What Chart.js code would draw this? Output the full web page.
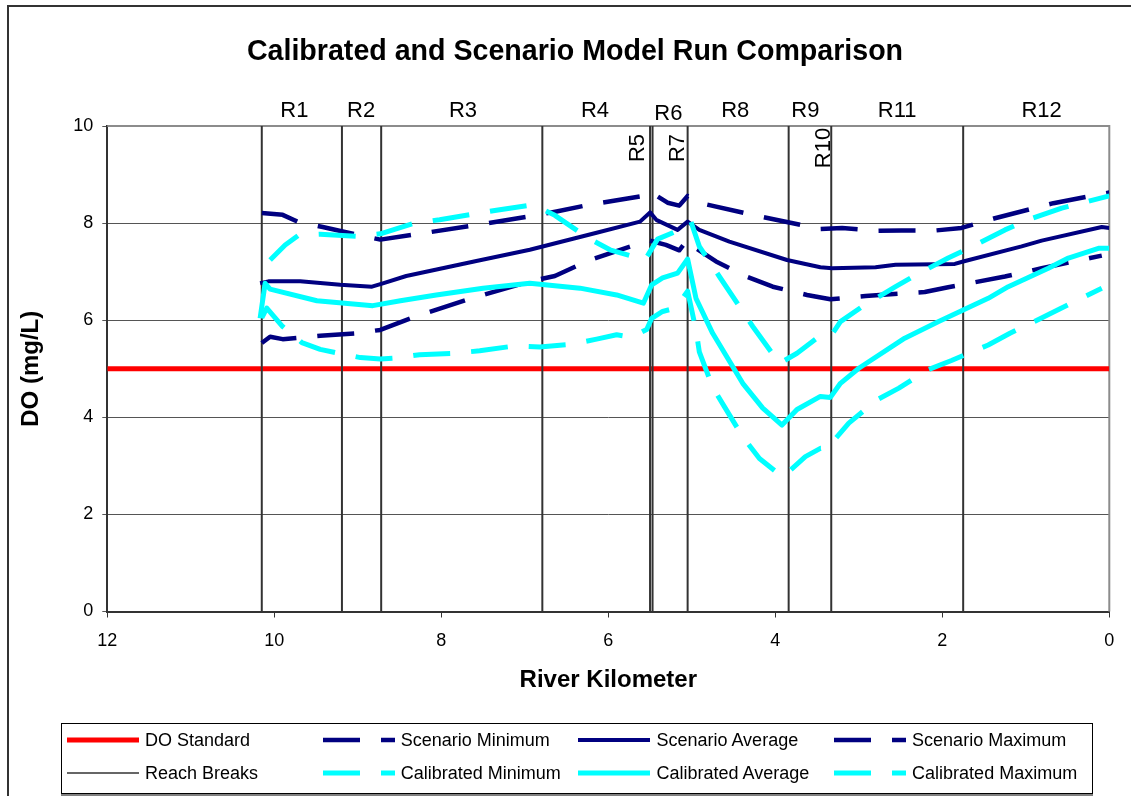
<!DOCTYPE html>
<html>
<head>
<meta charset="utf-8">
<script src="https://cdn.jsdelivr.net/npm/chart.js@4.4.0/dist/chart.umd.min.js"></script>
<style>
  html, body { margin: 0; padding: 0; background: #fff; overflow: hidden; }
  #wrap { position: relative; width: 1131px; height: 796px; overflow: hidden; }
  #frame { position: absolute; left: 7px; top: 5px; width: 1300px; height: 1000px; border-left: 2px solid #333; border-top: 2px solid #333; }
  #chart { position: absolute; left: 0; top: 0; }
  #legend { position: absolute; left: 61px; top: 723px; width: 1030px; height: 69px; border: 1px solid #000; box-shadow: 0 2px 0 #808080; background: #fff; font-family: "Liberation Sans", Arial, sans-serif; font-size: 18px; color: #000; }
  .item { position: absolute; height: 20px; display: flex; align-items: center; white-space: nowrap; }
  .item svg { margin-right: 6px; }
</style>
</head>
<body>
<div id="wrap">
  <div id="frame"></div>
  <canvas id="chart" width="1131" height="796"></canvas>
  <div id="legend"></div>
</div>
<script>
const chartTitle = 'Calibrated and Scenario Model Run Comparison';

// river km of the reach breaks
const reachBreaks = [10.15, 9.19, 8.72, 6.79, 5.50, 5.47, 5.05, 3.84, 3.33, 1.75];
// reach names above the plot, and the short reaches written sideways
const reachNames = ['R1', 'R2', 'R3', 'R4', 'R6', 'R8', 'R9', 'R11', 'R12'];
const reachNameKm = [9.76, 8.96, 7.74, 6.16, 5.28, 4.48, 3.64, 2.54, 0.81];
const shortReachNames = ['R5', 'R7', 'R10'];
const shortReachKm = [5.57, 5.09, 3.35];

const doStdKm = [12, 0];
const doStd = [5, 5];

const scenMinKm = [10.15, 10.05, 9.90, 9.45, 9.03, 8.73, 8.35, 7.64, 6.94, 6.64, 6.22, 5.56, 5.51, 5.31, 5.15, 5.05, 4.95, 4.71, 4.35, 4.03, 3.62, 3.34, 2.92, 2.21, 1.93, 1.77, 1.25, 0.81, 0.09];
const scenMin = [5.53, 5.66, 5.61, 5.68, 5.73, 5.80, 6.05, 6.45, 6.80, 6.91, 7.24, 7.62, 7.64, 7.55, 7.44, 7.66, 7.48, 7.21, 6.90, 6.69, 6.52, 6.43, 6.50, 6.58, 6.68, 6.73, 6.90, 7.07, 7.33];

const scenAvgKm = [10.17, 10.07, 9.69, 9.21, 8.83, 8.70, 8.42, 7.58, 6.94, 6.14, 5.62, 5.50, 5.42, 5.17, 5.05, 4.91, 4.55, 3.86, 3.46, 3.32, 2.80, 2.56, 1.85, 1.75, 1.05, 0.81, 0.09, 0];
const scenAvg = [6.76, 6.80, 6.80, 6.73, 6.69, 6.76, 6.91, 7.22, 7.45, 7.80, 8.03, 8.22, 8.06, 7.86, 8.03, 7.86, 7.62, 7.24, 7.09, 7.07, 7.09, 7.14, 7.16, 7.21, 7.52, 7.64, 7.92, 7.90];

const scenMaxKm = [10.15, 9.90, 9.72, 9.42, 9.01, 8.73, 8.30, 7.62, 6.90, 6.62, 6.22, 5.58, 5.50, 5.29, 5.15, 5.05, 4.89, 4.19, 3.46, 3.20, 2.77, 2.49, 2.07, 1.77, 1.37, 0.67, 0];
const scenMax = [8.21, 8.17, 8.03, 7.92, 7.76, 7.66, 7.77, 7.95, 8.15, 8.24, 8.38, 8.56, 8.65, 8.42, 8.36, 8.56, 8.41, 8.14, 7.88, 7.90, 7.84, 7.85, 7.85, 7.90, 8.10, 8.41, 8.63];

const calMinKm = [10.15, 10.09, 9.90, 9.67, 9.45, 9.23, 8.97, 8.73, 8.56, 8.26, 7.84, 7.54, 7.12, 6.82, 6.46, 6.14, 5.90, 5.72, 5.54, 5.48, 5.35, 5.19, 5.05, 4.95, 4.91, 4.75, 4.61, 4.39, 4.19, 3.92, 3.86, 3.64, 3.46, 3.36, 3.30, 3.12, 2.78, 2.52, 2.17, 1.89, 1.45, 1.19, 0.77, 0.49, 0.09];
const calMin = [6.05, 6.25, 5.87, 5.54, 5.40, 5.32, 5.23, 5.20, 5.22, 5.29, 5.32, 5.37, 5.47, 5.45, 5.50, 5.61, 5.70, 5.65, 5.81, 6.04, 6.18, 6.25, 6.60, 5.80, 5.35, 4.62, 4.22, 3.60, 3.15, 2.78, 2.85, 3.19, 3.36, 3.36, 3.52, 3.88, 4.36, 4.60, 4.98, 5.17, 5.49, 5.73, 6.08, 6.32, 6.66];

const calAvgKm = [10.17, 10.11, 10.05, 9.49, 8.82, 8.49, 8.06, 7.50, 6.94, 6.34, 5.90, 5.58, 5.48, 5.35, 5.17, 5.05, 4.95, 4.75, 4.39, 4.15, 3.92, 3.74, 3.46, 3.34, 3.22, 3.00, 2.45, 2.05, 1.75, 1.45, 1.21, 0.73, 0.49, 0.13, 0];
const calAvg = [6.04, 6.76, 6.64, 6.40, 6.30, 6.40, 6.52, 6.66, 6.76, 6.66, 6.52, 6.35, 6.73, 6.87, 6.97, 7.26, 6.45, 5.73, 4.70, 4.19, 3.84, 4.16, 4.43, 4.41, 4.70, 5.01, 5.63, 5.97, 6.21, 6.45, 6.69, 7.07, 7.28, 7.48, 7.48];

const calMaxKm = [10.05, 9.87, 9.71, 9.45, 9.01, 8.73, 8.32, 8.02, 7.60, 7.32, 6.90, 6.64, 6.24, 5.98, 5.56, 5.41, 5.19, 5.01, 4.91, 4.67, 4.27, 3.95, 3.74, 3.50, 3.34, 3.22, 2.96, 2.56, 2.33, 1.93, 1.65, 1.25, 0.97, 0.57, 0.25, 0];
const calMax = [7.24, 7.55, 7.75, 7.77, 7.73, 7.78, 8.00, 8.07, 8.19, 8.27, 8.38, 8.16, 7.69, 7.45, 7.24, 7.67, 7.83, 8.03, 7.52, 6.90, 5.87, 5.11, 5.32, 5.63, 5.66, 5.97, 6.28, 6.69, 6.92, 7.28, 7.51, 7.86, 8.07, 8.31, 8.45, 8.56];

const pts = (kms, vals) => kms.map((k, i) => ({ x: k, y: vals[i] }));

// each break is a vertical segment from 0 to 10, separated by gaps
const breakPts = reachBreaks.flatMap(k => [{ x: k, y: 0 }, { x: k, y: 10 }, { x: k, y: null }]);

const NAVY = '#000080', CYAN = '#00ffff', RED = '#ff0000';
const DASH = [37, 21];

const datasets = [
    { label: 'Calibrated Minimum', data: pts(calMinKm, calMin), borderColor: CYAN, borderWidth: 5, borderDash: DASH, order: 0 },
    { label: 'Calibrated Average', data: pts(calAvgKm, calAvg), borderColor: CYAN, borderWidth: 5, order: 0 },
    { label: 'Calibrated Maximum', data: pts(calMaxKm, calMax), borderColor: CYAN, borderWidth: 5, borderDash: DASH, order: 0 },
    { label: 'Scenario Minimum', data: pts(scenMinKm, scenMin), borderColor: NAVY, borderWidth: 4.5, borderDash: DASH, order: 1 },
    { label: 'Scenario Average', data: pts(scenAvgKm, scenAvg), borderColor: NAVY, borderWidth: 4, order: 1 },
    { label: 'Scenario Maximum', data: pts(scenMaxKm, scenMax), borderColor: NAVY, borderWidth: 4.5, borderDash: DASH, order: 1 },
    { label: 'Reach Breaks', data: breakPts, borderColor: '#333', borderWidth: 2, spanGaps: false, order: 2 },
    { label: 'DO Standard', data: pts(doStdKm, doStd), borderColor: RED, borderWidth: 5, order: 3 }
];
datasets.forEach(d => { d.pointRadius = 0; d.tension = 0; d.fill = false; d.borderJoinStyle = 'round'; });

const FONT = '"Liberation Sans", Arial, sans-serif';
Chart.defaults.font.family = FONT;
Chart.defaults.color = '#000';

// plot frame, title and reach names
const decor = {
    id: 'decor',
    beforeDatasetsDraw(chart) {
        const { ctx, chartArea: a } = chart;
        ctx.save();
        ctx.strokeStyle = '#8c8c8c';
        ctx.lineWidth = 2;
        ctx.beginPath();
        ctx.moveTo(a.left, a.top);
        ctx.lineTo(a.right, a.top);
        ctx.lineTo(a.right, a.bottom);
        ctx.stroke();
        ctx.restore();
    },
    afterDraw(chart) {
        const { ctx, chartArea: a, scales: { x } } = chart;
        ctx.save();
        ctx.fillStyle = '#000';
        ctx.textBaseline = 'alphabetic';
        ctx.textAlign = 'center';
        ctx.font = 'bold 28.6px ' + FONT;
        ctx.fillText(chartTitle, 575, 59.5);

        ctx.font = '22px ' + FONT;
        reachNames.forEach((t, i) => {
            const drop = t === 'R6' ? 3 : 0;
            ctx.fillText(t, x.getPixelForValue(reachNameKm[i]), a.top - 9 + drop);
        });
        shortReachNames.forEach((t, i) => {
            ctx.save();
            ctx.translate(x.getPixelForValue(shortReachKm[i]), a.top + 22);
            ctx.rotate(-Math.PI / 2);
            ctx.fillText(t, 0, 0);
            ctx.restore();
        });
        ctx.restore();
    }
};

const chart = new Chart(document.getElementById('chart'), {
    type: 'line',
    data: { datasets },
    options: {
        responsive: false,
        animation: false,
        layout: { padding: { left: 0, right: 21.7, top: 126, bottom: 94.5 } },
        plugins: { legend: { display: false }, title: { display: false }, tooltip: { enabled: false } },
        scales: {
            x: {
                type: 'linear', reverse: true, min: 0, max: 12,
                ticks: { stepSize: 2, font: { size: 18 }, color: '#000', padding: 13, maxRotation: 0 },
                grid: { drawOnChartArea: false, drawTicks: true, tickLength: 6, color: '#333' },
                border: { display: true, color: '#333', width: 2 },
                title: { display: true, text: 'River Kilometer', font: { size: 24, weight: 'bold' }, color: '#000', padding: { top: 0, bottom: 7 } },
                afterFit: s => { s.height = 90; }
            },
            y: {
                min: 0, max: 10,
                ticks: { stepSize: 2, font: { size: 18 }, color: '#000', padding: 9 },
                grid: { color: '#555', tickLength: 5 },
                border: { display: true, color: '#333', width: 2 },
                title: { display: true, text: 'DO (mg/L)', font: { size: 24, weight: 'bold' }, color: '#000', padding: { top: 16.6, bottom: 0 } },
                afterFit: s => { s.width = 107.3; }
            }
        }
    },
    plugins: [decor]
});

// legend: two rows of four, in the order of the reference
const legendOrder = ['DO Standard', 'Scenario Minimum', 'Scenario Average', 'Scenario Maximum',
    'Reach Breaks', 'Calibrated Minimum', 'Calibrated Average', 'Calibrated Maximum'];
const legend = document.getElementById('legend');
legend.innerHTML = legendOrder.map((name, i) => {
    const d = chart.data.datasets.find(ds => ds.label === name);
    const col = i % 4, row = Math.floor(i / 4);
    const w = name === 'Reach Breaks' ? 1.5 : d.borderWidth;
    const dash = d.borderDash ? `stroke-dasharray="${d.borderDash.join(' ')}"` : '';
    return `<div class="item" style="left:${5 + col * 255.7}px; top:${6 + row * 33}px">
        <svg width="72" height="10"><line x1="0" y1="5" x2="72" y2="5" stroke="${d.borderColor}" stroke-width="${w}" ${dash}/></svg>${name}</div>`;
}).join('');
</script>
</body>
</html>
